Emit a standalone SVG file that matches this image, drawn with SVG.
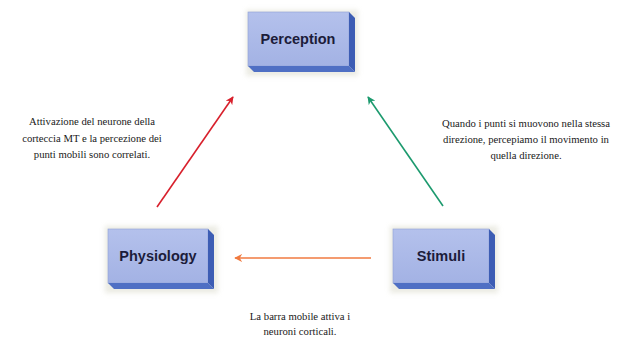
<svg xmlns="http://www.w3.org/2000/svg" width="624" height="338" viewBox="0 0 624 338">
<style>
.face{fill:url(#g);stroke:#8fa0d8;stroke-width:0.6}
.side{fill:#3d5db4}
.bot{fill:#4f6fc4}
.lbl{font-family:"Liberation Sans",Arial,sans-serif;font-weight:bold;font-size:14.5px;fill:#1c1c3a;text-anchor:middle}
.cap{font-family:"Liberation Serif","Times New Roman",serif;font-size:10.7px;fill:#1a1a1a;text-anchor:middle}
</style>
<defs>
<linearGradient id="g" x1="0" y1="0" x2="0" y2="1">
<stop offset="0" stop-color="#b4c1ec"/>
<stop offset="1" stop-color="#a3b2e4"/>
</linearGradient>
<filter id="sh" x="-20%" y="-20%" width="140%" height="140%"><feGaussianBlur stdDeviation="2.5"/></filter>
<marker id="mr" viewBox="0 0 10 10" refX="9" refY="5" markerWidth="5" markerHeight="5" orient="auto"><path d="M0,0 L10,5 L0,10 L3,5 z" fill="#d8202c"/></marker>
<marker id="mg" viewBox="0 0 10 10" refX="9" refY="5" markerWidth="5" markerHeight="5" orient="auto"><path d="M0,0 L10,5 L0,10 L3,5 z" fill="#1c9a6e"/></marker>
<marker id="mo" viewBox="0 0 10 10" refX="9" refY="5" markerWidth="5" markerHeight="5" orient="auto"><path d="M0,0 L10,5 L0,10 L3,5 z" fill="#f07a40"/></marker>
</defs>
<rect width="624" height="338" fill="#ffffff"/>
<g id="perception">
<rect x="246" y="10" width="112" height="66" fill="#d8d8c8" opacity="0.5" filter="url(#sh)"/>
<rect class="face" x="248" y="12" width="101" height="54"/>
<polygon class="side" points="349,12 355,18 355,72 349,66"/>
<polygon class="bot" points="248,66 349,66 355,72 254,72"/>
<text class="lbl" x="298" y="44">Perception</text>
</g>
<g id="physiology">
<rect x="105" y="226" width="113" height="67" fill="#d8d8c8" opacity="0.5" filter="url(#sh)"/>
<rect class="face" x="108" y="229" width="100" height="54"/>
<polygon class="side" points="208,229 214,235 214,289 208,283"/>
<polygon class="bot" points="108,283 208,283 214,289 114,289"/>
<text class="lbl" x="158" y="261">Physiology</text>
</g>
<g id="stimuli">
<rect x="390" y="226" width="108" height="67" fill="#d8d8c8" opacity="0.5" filter="url(#sh)"/>
<rect class="face" x="393" y="229" width="96" height="54"/>
<polygon class="side" points="489,229 495,235 495,289 489,283"/>
<polygon class="bot" points="393,283 489,283 495,289 399,289"/>
<text class="lbl" x="441" y="261">Stimuli</text>
</g>
<g id="connectors">
<line x1="157" y1="207" x2="233" y2="97" stroke="#d8202c" stroke-width="1.6" marker-end="url(#mr)"/>
<line x1="443" y1="206" x2="368" y2="97" stroke="#1c9a6e" stroke-width="1.6" marker-end="url(#mg)"/>
<line x1="371" y1="258" x2="235" y2="258" stroke="#f07a40" stroke-width="1.6" marker-end="url(#mo)"/>
</g>
<g id="captions">
<text class="cap" x="92" y="125">Attivazione del neurone della</text>
<text class="cap" x="92" y="142">corteccia MT e la percezione dei</text>
<text class="cap" x="92" y="158">punti mobili sono correlati.</text>
<text class="cap" x="526" y="127">Quando i punti si muovono nella stessa</text>
<text class="cap" x="526" y="143">direzione, percepiamo il movimento in</text>
<text class="cap" x="526" y="159">quella direzione.</text>
<text class="cap" x="300" y="320">La barra mobile attiva i</text>
<text class="cap" x="300" y="335">neuroni corticali.</text>
</g>
</svg>
